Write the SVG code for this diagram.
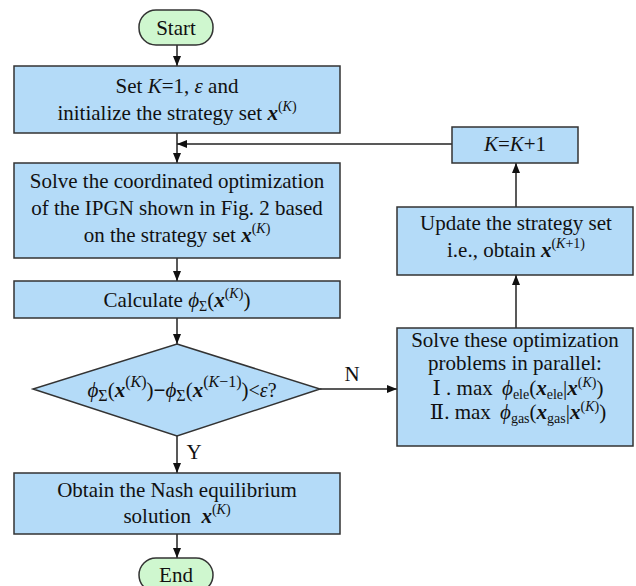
<svg xmlns="http://www.w3.org/2000/svg" width="636" height="586" viewBox="0 0 636 586">
<style>
.box{fill:#B4DBF8;stroke:#333;stroke-width:1.5}
.term{fill:#CFF7CF;stroke:#333;stroke-width:1.5}
.ln{fill:none;stroke:#222;stroke-width:1.5}
text{font-family:"Liberation Serif","Times New Roman",serif;font-size:21px;fill:#111;text-anchor:middle}
.i{font-style:italic}
.bi{font-style:italic;font-weight:bold}
.s{font-size:14px}
.s2{font-size:16px}
.r{font-family:"Liberation Serif","DejaVu Serif",serif}
</style>
<defs>
<marker id="ah" markerUnits="userSpaceOnUse" markerWidth="10" markerHeight="8" refX="10" refY="4" orient="auto">
<path d="M0,0 L10,4 L0,8 z" fill="#111"/>
</marker>
</defs>
<g id="connectors">
<line class="ln" x1="177" y1="45" x2="177" y2="66" marker-end="url(#ah)"/>
<line class="ln" x1="177" y1="133" x2="177" y2="163" marker-end="url(#ah)"/>
<line class="ln" x1="452" y1="144" x2="177" y2="144" marker-end="url(#ah)"/>
<line class="ln" x1="177" y1="258" x2="177" y2="281" marker-end="url(#ah)"/>
<line class="ln" x1="177" y1="318" x2="177" y2="344" marker-end="url(#ah)"/>
<line class="ln" x1="177" y1="436" x2="177" y2="473" marker-end="url(#ah)"/>
<line class="ln" x1="177" y1="534" x2="177" y2="558" marker-end="url(#ah)"/>
<line class="ln" x1="320" y1="389" x2="397" y2="389" marker-end="url(#ah)"/>
<line class="ln" x1="516" y1="328" x2="516" y2="275" marker-end="url(#ah)"/>
<line class="ln" x1="516" y1="207" x2="516" y2="163" marker-end="url(#ah)"/>
<text x="352" y="381">N</text>
<text x="194" y="459">Y</text>
</g>
<g id="start">
<rect class="term" x="139" y="10" width="74" height="35" rx="17"/>
<text x="176" y="35">Start</text>
</g>
<g id="init">
<rect class="box" x="14" y="66" width="326" height="67"/>
<text x="177" y="93">Set <tspan class="i">K</tspan>=1, <tspan class="i">ε</tspan> and</text>
<text x="177" y="120">initialize the strategy set <tspan class="bi">x</tspan><tspan class="s" dy="-9">(<tspan class="i">K</tspan>)</tspan></text>
</g>
<g id="solve">
<rect class="box" x="14" y="163" width="326" height="95"/>
<text x="177" y="188">Solve the coordinated optimization</text>
<text x="177" y="215">of the IPGN shown in Fig. 2 based</text>
<text x="177" y="242">on the strategy set <tspan class="bi">x</tspan><tspan class="s" dy="-9">(<tspan class="i">K</tspan>)</tspan></text>
</g>
<g id="calc">
<rect class="box" x="14" y="281" width="326" height="37"/>
<text x="177" y="307">Calculate <tspan class="i">ϕ</tspan><tspan class="s" dy="4">Σ</tspan><tspan dy="-4">(</tspan><tspan class="bi">x</tspan><tspan class="s" dy="-9">(<tspan class="i">K</tspan>)</tspan><tspan dy="9">)</tspan></text>
</g>
<g id="check">
<polygon class="box" points="177,344 320,389 177,436 33,389"/>
<text x="182" y="397" font-size="24"><tspan class="i">ϕ</tspan><tspan class="s2" dy="4">Σ</tspan><tspan dy="-4">(</tspan><tspan class="bi">x</tspan><tspan class="s2" dy="-10">(<tspan class="i">K</tspan>)</tspan><tspan dy="10">)</tspan><tspan font-weight="bold">−</tspan><tspan class="i">ϕ</tspan><tspan class="s2" dy="4">Σ</tspan><tspan dy="-4">(</tspan><tspan class="bi">x</tspan><tspan class="s2" dy="-10">(<tspan class="i">K</tspan>−1)</tspan><tspan dy="10">)</tspan><tspan font-size="20">&lt;<tspan class="i">ε</tspan>?</tspan></text>
</g>
<g id="nash">
<rect class="box" x="14" y="473" width="326" height="61"/>
<text x="177" y="497">Obtain the Nash equilibrium</text>
<text x="177" y="523">solution <tspan class="bi" dx="5">x</tspan><tspan class="s" dy="-9">(<tspan class="i">K</tspan>)</tspan></text>
</g>
<g id="end">
<rect class="term" x="139" y="558" width="74" height="34" rx="17"/>
<text x="176" y="582">End</text>
</g>
<g id="parallel">
<rect class="box" x="397" y="328" width="236" height="118"/>
<text x="515" y="347">Solve these optimization</text>
<text x="515" y="370">problems in parallel:</text>
<text x="518" y="395" font-size="22"><tspan class="r">Ⅰ</tspan> . max <tspan class="i" dx="4">ϕ</tspan><tspan class="s" dy="4">ele</tspan><tspan dy="-4">(</tspan><tspan class="bi">x</tspan><tspan class="s" dy="4">ele</tspan><tspan dy="-4">|</tspan><tspan class="bi">x</tspan><tspan class="s" dy="-8">(<tspan class="i">K</tspan>)</tspan><tspan dy="8">)</tspan></text>
<text x="518" y="419" font-size="22"><tspan class="r">Ⅱ</tspan>. max <tspan class="i" dx="4">ϕ</tspan><tspan class="s" dy="4">gas</tspan><tspan dy="-4">(</tspan><tspan class="bi">x</tspan><tspan class="s" dy="4">gas</tspan><tspan dy="-4">|</tspan><tspan class="bi">x</tspan><tspan class="s" dy="-8">(<tspan class="i">K</tspan>)</tspan><tspan dy="8">)</tspan></text>
</g>
<g id="update">
<rect class="box" x="397" y="207" width="236" height="68"/>
<text x="516" y="230">Update the strategy set</text>
<text x="516" y="257">i.e., obtain <tspan class="bi">x</tspan><tspan class="s" dy="-9">(<tspan class="i">K</tspan>+1)</tspan></text>
</g>
<g id="incr">
<rect class="box" x="452" y="127" width="126" height="36"/>
<text x="515" y="151"><tspan class="i">K</tspan>=<tspan class="i">K</tspan>+1</text>
</g>
</svg>
